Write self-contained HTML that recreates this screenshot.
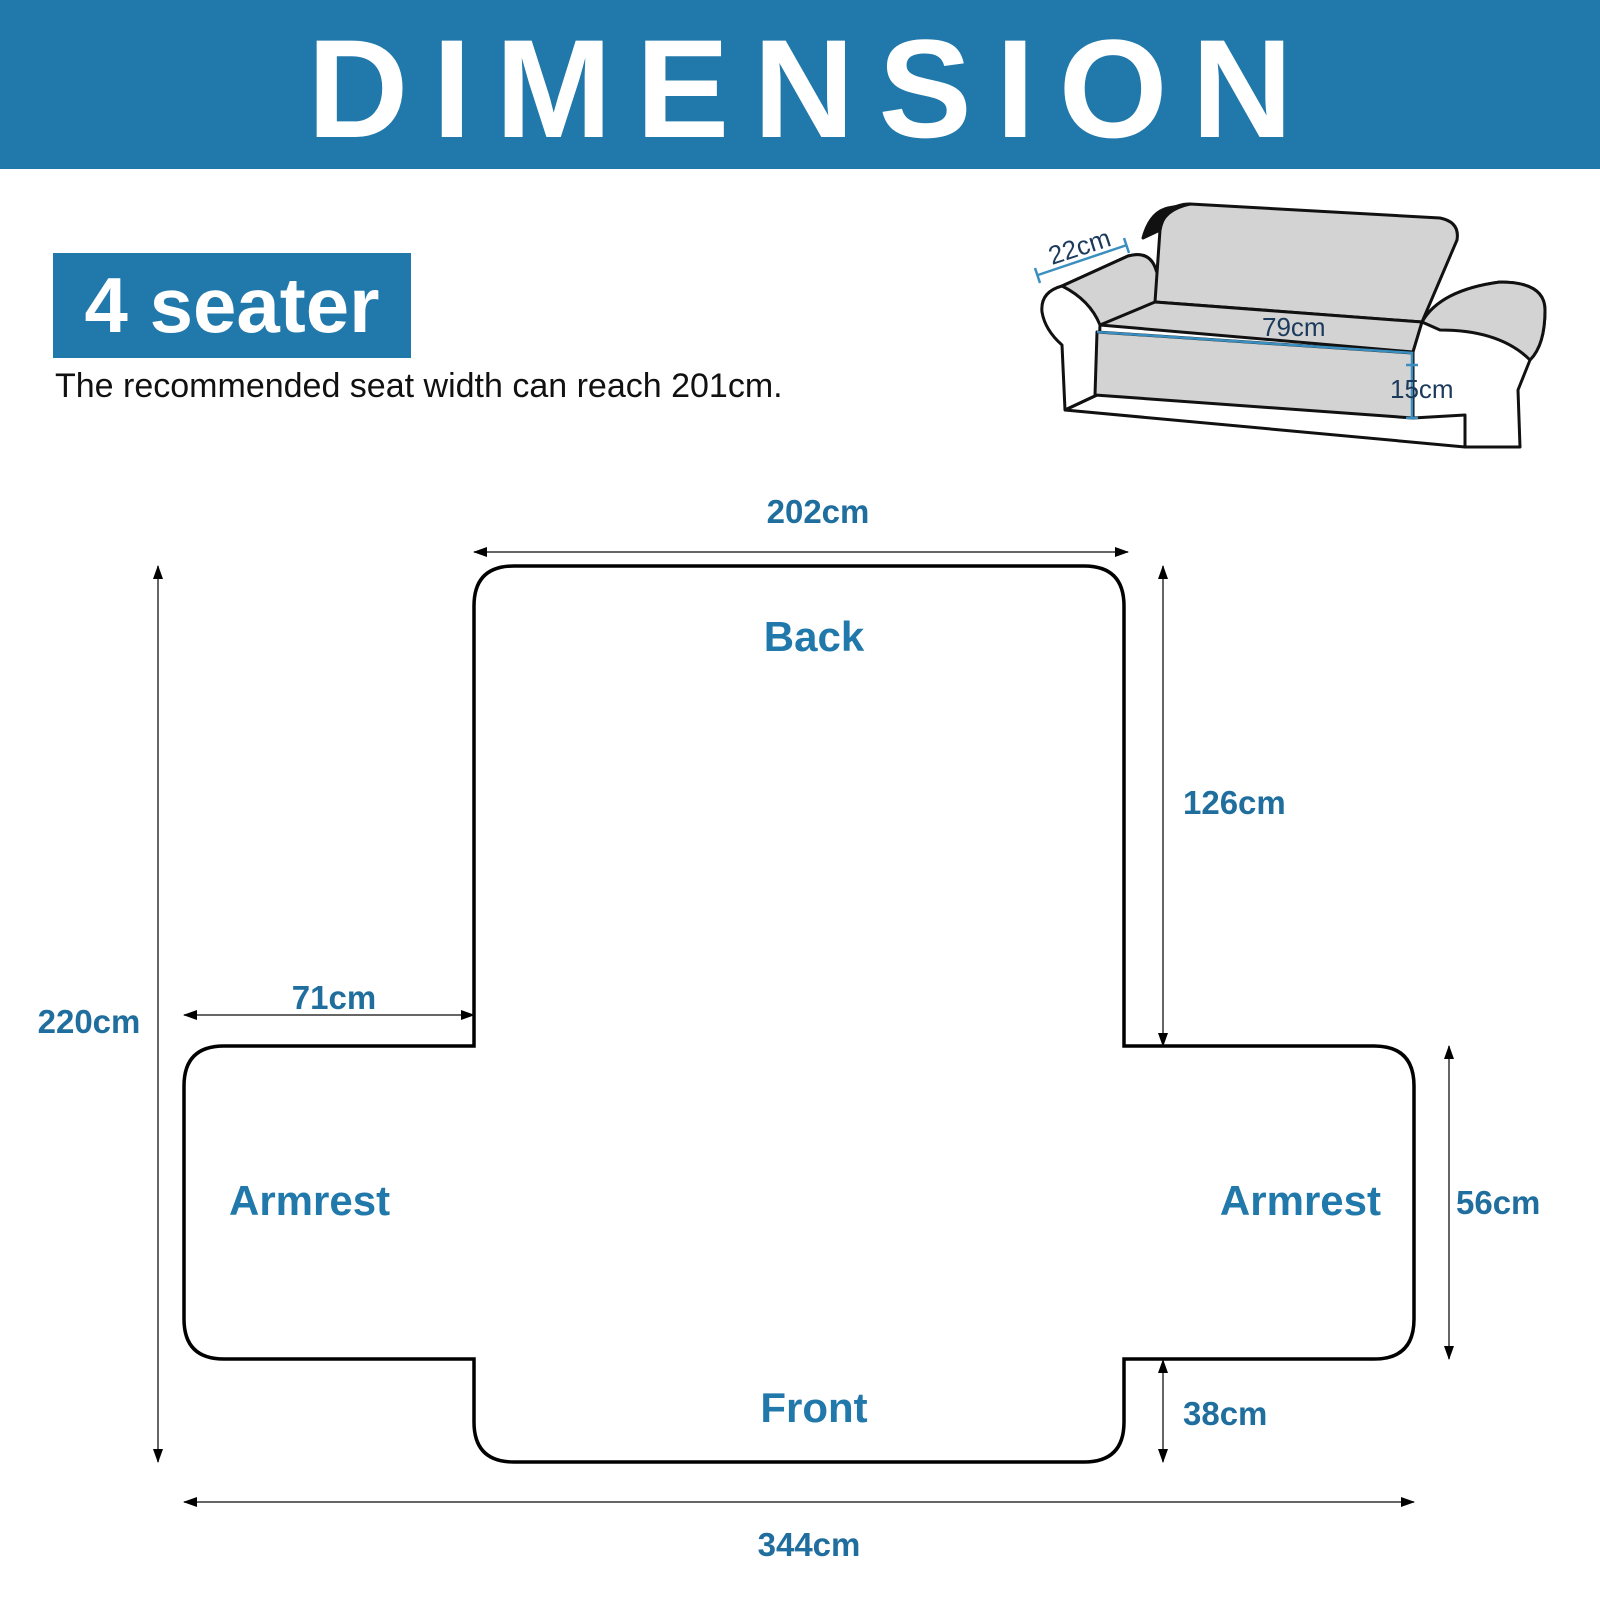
<!DOCTYPE html>
<html><head><meta charset="utf-8"><style>
html,body{margin:0;padding:0;background:#fff;}
body{width:1600px;height:1600px;position:relative;overflow:hidden;font-family:"Liberation Sans",sans-serif;}
.hdr{position:absolute;left:0;top:0;width:1600px;height:169px;background:#2178aa;}
.hdr span{position:absolute;left:0;width:1600px;top:14px;text-align:center;color:#fff;font-weight:bold;font-size:140px;letter-spacing:24px;text-indent:24px;line-height:150px;}
.seat{position:absolute;left:53px;top:253px;width:358px;height:105px;background:#2178aa;color:#fff;font-weight:bold;font-size:78px;line-height:105px;text-align:center;}
.sub{position:absolute;left:55px;top:367px;font-size:34px;color:#111;}
</style></head><body>
<div class="hdr"><span>DIMENSION</span></div>
<div class="seat">4 seater</div>
<div class="sub">The recommended seat width can reach 201cm.</div>
<svg width="1600" height="1600" style="position:absolute;left:0;top:0">
<defs><marker id="a" markerWidth="14" markerHeight="12" refX="13" refY="6" orient="auto-start-reverse" markerUnits="userSpaceOnUse"><path d="M0,1 L14,6 L0,11z" fill="#000"/></marker></defs>
<!-- sofa -->
<g stroke="#111" stroke-width="3" stroke-linejoin="round" fill="none">
<path d="M1065,410 L1062,345 Q1045,330 1042,312 Q1040,292 1062,286 L1128,256 Q1150,250 1156,270 L1168,302 L1100,325 L1097,395 Z" fill="#fff"/>
<path d="M1062,286 L1128,256 Q1150,250 1156,270 L1168,302 L1100,325 Q1090,300 1062,286Z" fill="#d3d3d3"/>
<path d="M1155,302 L1160,230 Q1165,204 1190,204 L1440,218 Q1460,222 1457,240 L1422,322 Z" fill="#d3d3d3"/>
<path d="M1160,230 Q1162,210 1190,204 L1168,208 Q1150,212 1143,238Z" fill="#111"/>
<path d="M1100,325 L1155,302 L1422,322 L1413,352 Z" fill="#d3d3d3"/>
<path d="M1097,332 L1413,353 L1413,418 L1095,395 Z" fill="#d3d3d3"/>
<path d="M1422,322 Q1440,290 1500,282 Q1545,282 1545,310 Q1545,345 1530,360 L1518,390 L1520,447 L1465,447 L1465,415 L1413,418 L1413,352 Z" fill="#fff"/>
<path d="M1422,322 Q1440,290 1500,282 Q1545,282 1545,310 Q1545,345 1530,360 Q1500,330 1440,330Z" fill="#d3d3d3"/>
<path d="M1065,410 L1465,447"/>
<path d="M1065,410 L1097,395"/>
</g>
<g stroke="#3a8fc0" stroke-width="2.5" fill="none"><path d="M1097,332 L1413,353"/><path d="M1412,352 L1412,418 M1406,418 L1418,418 M1406,365 L1418,365"/><path d="M1038,275 L1127,245 M1035,268 L1040,283 M1124,238 L1129,253"/></g>
<g fill="#1c3a5c" font-size="26"><text x="1262" y="336">79cm</text><text x="1390" y="398">15cm</text><text x="1052" y="265" transform="rotate(-18 1052 265)">22cm</text></g>
<!-- outline -->
<path d="M514,566 L1084,566 Q1124,566 1124,606 L1124,1046 L1374,1046 Q1414,1046 1414,1086 L1414,1319 Q1414,1359 1374,1359 L1124,1359 L1124,1422 Q1124,1462 1084,1462 L514,1462 Q474,1462 474,1422 L474,1359 L224,1359 Q184,1359 184,1319 L184,1086 Q184,1046 224,1046 L474,1046 L474,606 Q474,566 514,566 Z" fill="none" stroke="#000" stroke-width="3.5"/>
<g stroke="#333" stroke-width="1.5" marker-start="url(#a)" marker-end="url(#a)">
<line x1="474" y1="552" x2="1128" y2="552"/>
<line x1="158" y1="566" x2="158" y2="1462"/>
<line x1="184" y1="1015" x2="474" y2="1015"/>
<line x1="1163" y1="566" x2="1163" y2="1046"/>
<line x1="1449" y1="1046" x2="1449" y2="1359"/>
<line x1="1163" y1="1360" x2="1163" y2="1462"/>
<line x1="184" y1="1502" x2="1414" y2="1502"/>
</g>
<g fill="#1f6e9e" font-weight="bold" font-size="33">
<text x="818" y="523" text-anchor="middle">202cm</text>
<text x="89" y="1033" text-anchor="middle">220cm</text>
<text x="334" y="1009" text-anchor="middle">71cm</text>
<text x="1183" y="814">126cm</text>
<text x="1456" y="1214">56cm</text>
<text x="1183" y="1425">38cm</text>
<text x="809" y="1556" text-anchor="middle">344cm</text>
</g>
<g fill="#2178aa" font-weight="bold" font-size="42">
<text x="814" y="651" text-anchor="middle">Back</text>
<text x="229" y="1215">Armrest</text>
<text x="1381" y="1215" text-anchor="end">Armrest</text>
<text x="814" y="1422" text-anchor="middle">Front</text>
</g>
</svg>
</body></html>
